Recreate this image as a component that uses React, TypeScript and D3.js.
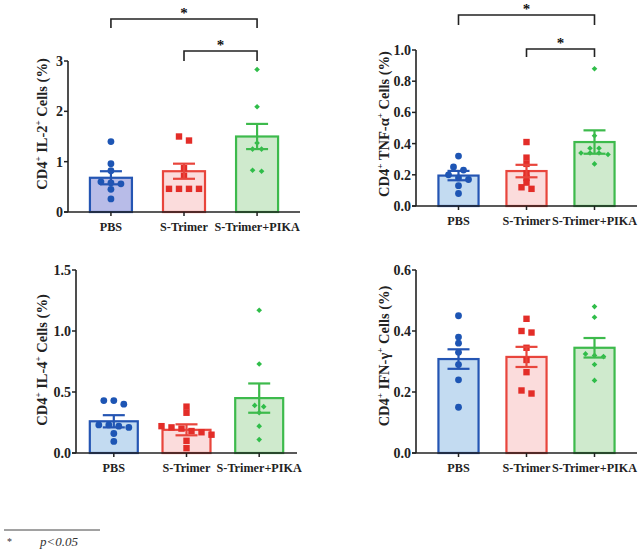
import { useMemo } from "react";
import * as d3 from "d3";

const categories = ["PBS", "S-Trimer", "S-Trimer+PIKA"];

// IL-2
const il2PBS = [1.4, 0.96, 0.82, 0.6, 0.58, 0.56, 0.45, 0.26];
const il2STrimer = [1.5, 1.42, 0.87, 0.72, 0.46, 0.46, 0.46, 0.46];
const il2PIKA = [2.83, 2.09, 1.37, 1.25, 1.25, 0.81, 0.83];
const il2Mean = [0.68, 0.81, 1.5];
const il2Sem = [0.13, 0.15, 0.25];

// TNF-a
const tnfPBS = [0.32, 0.25, 0.23, 0.2, 0.18, 0.17, 0.13, 0.08];
const tnfSTrimer = [0.41, 0.31, 0.27, 0.21, 0.18, 0.15, 0.11, 0.12];
const tnfPIKA = [0.88, 0.45, 0.37, 0.37, 0.34, 0.34, 0.34, 0.33, 0.27];
const tnfMean = [0.195, 0.224, 0.41];
const tnfSem = [0.03, 0.04, 0.075];

// IL-4
const il4PBS = [0.43, 0.43, 0.4, 0.23, 0.21, 0.22, 0.23, 0.16, 0.095];
const il4STrimer = [0.38, 0.33, 0.22, 0.21, 0.2, 0.18, 0.17, 0.15, 0.1, 0.04];
const il4PIKA = [1.17, 0.73, 0.39, 0.38, 0.33, 0.22, 0.11];
const il4Mean = [0.26, 0.19, 0.45];
const il4Sem = [0.05, 0.045, 0.12];

// IFN-g
const ifnPBS = [0.45, 0.38, 0.36, 0.33, 0.29, 0.24, 0.15];
const ifnSTrimer = [0.44, 0.4, 0.395, 0.345, 0.305, 0.265, 0.195, 0.205];
const ifnPIKA = [0.48, 0.445, 0.325, 0.32, 0.316, 0.29, 0.238];
const ifnMean = [0.308, 0.315, 0.345];
const ifnSem = [0.032, 0.033, 0.032];

const STROKES = ["#2455b3", "#e8453c", "#3dba4c"];
const FILLS = ["#c3dbf1", "#fbdcdc", "#cfeacd"];
const DOTS = ["#1d55b4", "#e32d28", "#2fbd49"];
const FONT = "'Liberation Serif', 'Times New Roman', serif";

type Bracket = { from: number; to: number; top: number; leg: number };

type PanelProps = {
  points: number[][];
  means: number[];
  sems: number[];
  yMax: number;
  ticks: number[];
  fmt: string;
  axisX: number;
  axisEnd: number;
  yTop: number;
  yBottom: number;
  padInner: number;
  padOuter: number;
  labelX: number;
  labelY: number;
  label: [string, string];
  blueFill?: string;
  brackets?: Bracket[];
};

// spread points with close values sideways, like a scatter dot plot
function swarm(values: number[], y: (v: number) => number, spacing: number, minGap: number) {
  const sorted = values.map((v, i) => ({ v, i, py: y(v) })).sort((a, b) => a.py - b.py);
  const out: { py: number; dx: number }[] = [];
  let group: typeof sorted = [];
  const flush = () => {
    group.forEach((p, k) => {
      out.push({ py: p.py, dx: (k - (group.length - 1) / 2) * spacing });
    });
    group = [];
  };
  sorted.forEach((p) => {
    if (group.length && p.py - group[group.length - 1].py > minGap) flush();
    group.push(p);
  });
  flush();
  return out;
}

function Panel(props: PanelProps) {
  const { points, means, sems, yMax, ticks, fmt, axisX, axisEnd, yTop, yBottom } = props;
  const y = useMemo(() => d3.scaleLinear().domain([0, yMax]).range([yBottom, yTop]), [yMax, yBottom, yTop]);
  const x = useMemo(
    () =>
      d3
        .scaleBand()
        .domain(categories)
        .range([axisX, axisEnd])
        .paddingInner(props.padInner)
        .paddingOuter(props.padOuter),
    [axisX, axisEnd]
  );
  const bw = x.bandwidth();
  const fmtFn = d3.format(fmt);

  return (
    <g>
      {categories.map((c, i) => {
        const cx = (x(c) ?? 0) + bw / 2;
        const fill = i === 0 && props.blueFill ? props.blueFill : FILLS[i];
        const pts = swarm(points[i], y, i === 2 ? 9 : 10, 4.5);
        return (
          <g key={c}>
            <rect
              x={x(c)}
              y={y(means[i])}
              width={bw}
              height={y(0) - y(means[i])}
              fill={fill}
              stroke={STROKES[i]}
              strokeWidth={2.2}
            />
            {pts.map((p, k) => {
              const px = cx + p.dx;
              if (i === 0) return <circle key={k} cx={px} cy={p.py} r={3.4} fill={DOTS[i]} />;
              if (i === 1)
                return <rect key={k} x={px - 3.2} y={p.py - 3.2} width={6.4} height={6.4} fill={DOTS[i]} />;
              return (
                <path
                  key={k}
                  d={`M${px},${p.py - 2.8}L${px + 2.8},${p.py}L${px},${p.py + 2.8}L${px - 2.8},${p.py}Z`}
                  fill={DOTS[i]}
                />
              );
            })}
            <g stroke={STROKES[i]} strokeWidth={2.2}>
              <line x1={cx} x2={cx} y1={y(means[i] - sems[i])} y2={y(means[i] + sems[i])} />
              <line x1={cx - 11} x2={cx + 11} y1={y(means[i] + sems[i])} y2={y(means[i] + sems[i])} />
              <line x1={cx - 11} x2={cx + 11} y1={y(means[i] - sems[i])} y2={y(means[i] - sems[i])} />
            </g>
            <line x1={cx} x2={cx} y1={yBottom} y2={yBottom + 4} stroke="#222" strokeWidth={1.5} />
            <text
              x={cx}
              y={yBottom + 19}
              textAnchor="middle"
              fontFamily={FONT}
              fontWeight="bold"
              fontSize={12.2}
              fill="#222"
            >
              {c}
            </text>
          </g>
        );
      })}
      {/* axes */}
      <line x1={axisX} x2={axisX} y1={yTop} y2={yBottom} stroke="#222" strokeWidth={1.6} />
      <line x1={axisX - 4} x2={axisEnd} y1={yBottom} y2={yBottom} stroke="#222" strokeWidth={1.6} />
      {ticks.map((t) => (
        <g key={t}>
          <line x1={axisX - 4} x2={axisX} y1={y(t)} y2={y(t)} stroke="#222" strokeWidth={1.5} />
          <text
            x={axisX - 5}
            y={y(t) + 5}
            textAnchor="end"
            fontFamily={FONT}
            fontWeight="bold"
            fontSize={14}
            fill="#222"
          >
            {fmtFn(t)}
          </text>
        </g>
      ))}
      <text
        transform={`translate(${props.labelX},${props.labelY}) rotate(-90)`}
        textAnchor="middle"
        fontFamily={FONT}
        fontWeight="bold"
        fontSize={14.5}
        fill="#222"
        dy={4}
      >
        CD4
        <tspan dy={-6} fontSize={9}>+</tspan>
        <tspan dy={6}> {props.label[0]}</tspan>
        <tspan dy={-6} fontSize={9}>+</tspan>
        <tspan dy={6}> {props.label[1]}</tspan>
      </text>
      {(props.brackets || []).map((b, k) => {
        const x1 = (x(categories[b.from]) ?? 0) + bw / 2;
        const x2 = (x(categories[b.to]) ?? 0) + bw / 2;
        return (
          <g key={k}>
            <path
              d={`M${x1},${b.leg}V${b.top}H${x2}V${b.leg}`}
              fill="none"
              stroke="#222"
              strokeWidth={1.6}
            />
            <text
              x={(x1 + x2) / 2}
              y={b.top - 1}
              textAnchor="middle"
              fontFamily={FONT}
              fontWeight="bold"
              fontSize={15}
              fill="#111"
            >
              *
            </text>
          </g>
        );
      })}
    </g>
  );
}

export default function App() {
  return (
    <svg
      width={644}
      height={556}
      style={{ position: "absolute", left: 0, top: 0, background: "#fff" }}
    >
      <Panel
        points={[il2PBS, il2STrimer, il2PIKA]}
        means={il2Mean}
        sems={il2Sem}
        yMax={3}
        ticks={[0, 1, 2, 3]}
        fmt="d"
        axisX={68}
        axisEnd={300}
        yTop={61}
        yBottom={212}
        padInner={0.425}
        padOuter={0.3}
        labelX={43}
        labelY={124}
        label={["IL-2", "Cells (%)"]}
        blueFill="#b8bce8"
        brackets={[
          { from: 0, to: 2, top: 19, leg: 28 },
          { from: 1, to: 2, top: 51, leg: 61 },
        ]}
      />
      <Panel
        points={[tnfPBS, tnfSTrimer, tnfPIKA]}
        means={tnfMean}
        sems={tnfSem}
        yMax={1}
        ticks={[0, 0.2, 0.4, 0.6, 0.8, 1.0]}
        fmt=".1f"
        axisX={416}
        axisEnd={637}
        yTop={50}
        yBottom={206}
        padInner={0.41}
        padOuter={0.33}
        labelX={385}
        labelY={124}
        label={["TNF-α", "Cells (%)"]}
        brackets={[
          { from: 0, to: 2, top: 15, leg: 25 },
          { from: 1, to: 2, top: 49, leg: 57 },
        ]}
      />
      <Panel
        points={[il4PBS, il4STrimer, il4PIKA]}
        means={il4Mean}
        sems={il4Sem}
        yMax={1.5}
        ticks={[0, 0.5, 1.0, 1.5]}
        fmt=".1f"
        axisX={76}
        axisEnd={297}
        yTop={270}
        yBottom={453}
        padInner={0.34}
        padOuter={0.19}
        labelX={43}
        labelY={360}
        label={["IL-4", "Cells (%)"]}
      />
      <Panel
        points={[ifnPBS, ifnSTrimer, ifnPIKA]}
        means={ifnMean}
        sems={ifnSem}
        yMax={0.6}
        ticks={[0, 0.2, 0.4, 0.6]}
        fmt=".1f"
        axisX={416}
        axisEnd={637}
        yTop={270}
        yBottom={453}
        padInner={0.41}
        padOuter={0.33}
        labelX={385}
        labelY={356}
        label={["IFN-γ", "Cells (%)"]}
      />
      {/* footnote */}
      <line x1={4} x2={100} y1={530} y2={530} stroke="#444" strokeWidth={1} />
      <text x={7} y={545} fontFamily={FONT} fontSize={10} fill="#333">*</text>
      <text x={40} y={546} fontFamily={FONT} fontStyle="italic" fontSize={13} fill="#333">
        p&lt;0.05
      </text>
    </svg>
  );
}
